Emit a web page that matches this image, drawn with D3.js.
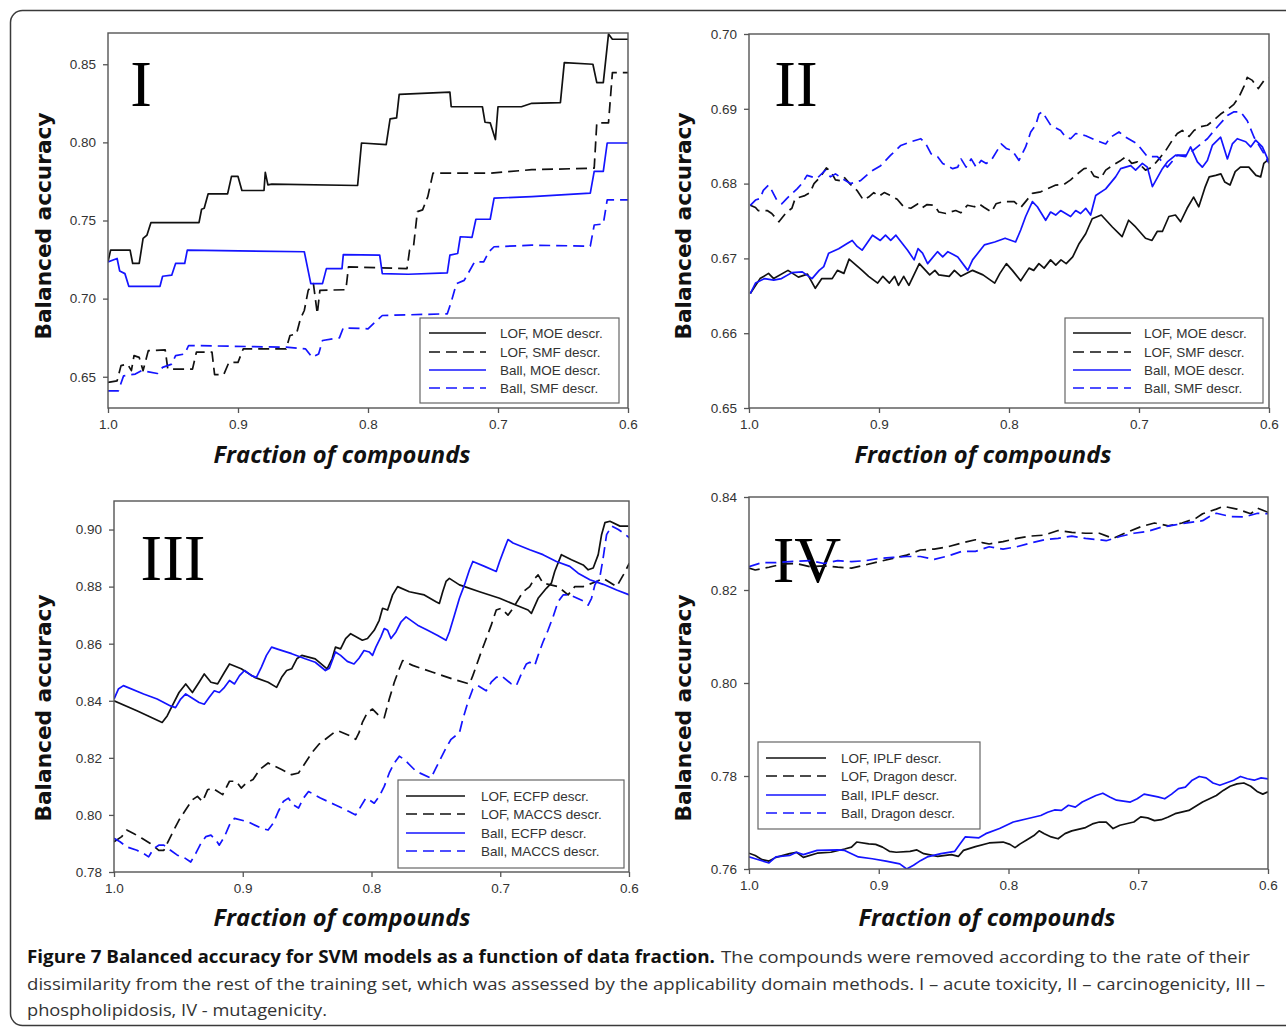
<!DOCTYPE html>
<html><head><meta charset="utf-8">
<script src="https://cdn.jsdelivr.net/npm/d3@7"></script>
<style>body{margin:0;background:#fff}</style>
</head><body>
<svg id="c" width="1286" height="1027"></svg>
<script>
// ---------- DATA ----------
const xTicks = [1.0, 0.9, 0.8, 0.7, 0.6];
const yTicksI = [0.65, 0.70, 0.75, 0.80, 0.85];
const yTicksII = [0.65, 0.66, 0.67, 0.68, 0.69, 0.70];
const yTicksIII = [0.78, 0.80, 0.82, 0.84, 0.86, 0.88, 0.90];
const yTicksIV = [0.76, 0.78, 0.80, 0.82, 0.84];

const legendI = ["LOF, MOE descr.", "LOF, SMF descr.", "Ball, MOE descr.", "Ball, SMF descr."];
const legendII = ["LOF, MOE descr.", "LOF, SMF descr.", "Ball, MOE descr.", "Ball, SMF descr."];
const legendIII = ["LOF, ECFP descr.", "LOF, MACCS descr.", "Ball, ECFP descr.", "Ball, MACCS descr."];
const legendIV = ["LOF, IPLF descr.", "LOF, Dragon descr.", "Ball, IPLF descr.", "Ball, Dragon descr."];

// Panel I (acute toxicity): [fraction, balanced accuracy]
const I_lofMoe = [[1.000,0.7235],[0.998,0.731],[0.983,0.731],[0.981,0.7225],[0.976,0.7225],[0.973,0.7385],[0.970,0.7407],[0.967,0.7486],[0.930,0.7486],[0.928,0.7572],[0.926,0.7578],[0.923,0.767],[0.908,0.767],[0.905,0.7782],[0.900,0.7782],[0.897,0.7692],[0.880,0.7692],[0.879,0.7808],[0.877,0.7728],[0.874,0.7733],[0.808,0.7724],[0.805,0.7996],[0.786,0.7986],[0.783,0.815],[0.778,0.8157],[0.776,0.8307],[0.737,0.8322],[0.736,0.8228],[0.712,0.8228],[0.710,0.8129],[0.706,0.8125],[0.702,0.8018],[0.700,0.8228],[0.682,0.8228],[0.674,0.825],[0.652,0.8254],[0.649,0.851],[0.627,0.850],[0.624,0.8382],[0.619,0.8382],[0.615,0.8693],[0.612,0.866],[0.600,0.866]];
const I_lofSmf = [[1.000,0.6464],[0.993,0.6474],[0.990,0.6571],[0.985,0.6581],[0.982,0.6539],[0.980,0.6635],[0.976,0.6624],[0.973,0.6539],[0.969,0.6667],[0.956,0.6672],[0.954,0.6549],[0.935,0.6549],[0.932,0.6657],[0.920,0.6657],[0.918,0.6513],[0.911,0.6513],[0.907,0.6592],[0.900,0.6592],[0.896,0.6678],[0.863,0.6678],[0.860,0.6764],[0.855,0.6774],[0.852,0.6871],[0.849,0.6924],[0.846,0.7053],[0.842,0.7096],[0.839,0.6903],[0.837,0.7053],[0.817,0.7057],[0.815,0.7203],[0.770,0.7192],[0.768,0.731],[0.765,0.7332],[0.762,0.7557],[0.758,0.7568],[0.754,0.7653],[0.750,0.7803],[0.706,0.7803],[0.674,0.7825],[0.626,0.7835],[0.624,0.8125],[0.615,0.8125],[0.612,0.8446],[0.600,0.8446]];
const I_ballMoe = [[1.000,0.7235],[0.993,0.7257],[0.991,0.7177],[0.987,0.716],[0.984,0.7079],[0.960,0.7079],[0.958,0.7143],[0.951,0.715],[0.948,0.7225],[0.941,0.7225],[0.939,0.731],[0.849,0.730],[0.844,0.7096],[0.835,0.7096],[0.832,0.7192],[0.820,0.7192],[0.819,0.7282],[0.791,0.7278],[0.789,0.716],[0.769,0.7156],[0.739,0.7165],[0.737,0.7278],[0.731,0.7289],[0.729,0.7396],[0.720,0.7392],[0.717,0.7508],[0.706,0.7508],[0.703,0.7643],[0.674,0.7653],[0.629,0.7675],[0.626,0.7814],[0.619,0.7814],[0.616,0.7996],[0.600,0.7996]];
const I_ballSmf = [[1.000,0.641],[0.992,0.641],[0.988,0.6506],[0.979,0.6517],[0.974,0.6539],[0.962,0.6521],[0.958,0.656],[0.951,0.6581],[0.948,0.6635],[0.941,0.6646],[0.938,0.670],[0.863,0.6689],[0.848,0.6678],[0.843,0.6624],[0.838,0.6646],[0.835,0.6732],[0.822,0.6749],[0.819,0.6813],[0.800,0.6807],[0.789,0.6892],[0.739,0.6903],[0.736,0.6978],[0.732,0.7096],[0.726,0.7117],[0.718,0.7235],[0.711,0.7235],[0.707,0.730],[0.703,0.7332],[0.674,0.7342],[0.629,0.7336],[0.626,0.7471],[0.619,0.7478],[0.616,0.7632],[0.600,0.7632]];

// Panel II (carcinogenicity)
const II_lofMoe = [[0.999,0.6653],[0.9915,0.6673],[0.985,0.668],[0.981,0.6673],[0.970,0.6684],[0.962,0.6675],[0.955,0.6679],[0.949,0.666],[0.944,0.6673],[0.936,0.6673],[0.932,0.6684],[0.927,0.668],[0.923,0.6699],[0.913,0.6684],[0.908,0.6676],[0.901,0.6667],[0.897,0.6676],[0.892,0.6667],[0.888,0.6676],[0.885,0.6664],[0.881,0.6676],[0.877,0.6664],[0.869,0.6693],[0.861,0.6678],[0.857,0.6684],[0.854,0.6678],[0.846,0.6676],[0.842,0.6684],[0.837,0.6676],[0.828,0.6684],[0.820,0.6678],[0.811,0.6667],[0.807,0.668],[0.802,0.6693],[0.7974,0.6684],[0.791,0.667],[0.7846,0.6687],[0.781,0.6684],[0.777,0.6693],[0.773,0.6687],[0.768,0.6698],[0.764,0.6691],[0.760,0.6698],[0.756,0.6693],[0.751,0.6702],[0.746,0.672],[0.741,0.6733],[0.736,0.6753],[0.729,0.6758],[0.7205,0.6742],[0.713,0.6729],[0.708,0.6751],[0.7026,0.6742],[0.695,0.6727],[0.690,0.6724],[0.686,0.6736],[0.682,0.6736],[0.677,0.6756],[0.672,0.6758],[0.668,0.6749],[0.663,0.6767],[0.658,0.6782],[0.654,0.6769],[0.649,0.6796],[0.646,0.6809],[0.641,0.6811],[0.637,0.6813],[0.634,0.6802],[0.630,0.6798],[0.626,0.6816],[0.622,0.6822],[0.6155,0.6822],[0.610,0.6811],[0.6064,0.6809],[0.604,0.6827],[0.600,0.6833]];
const II_lofSmf = [[0.999,0.6771],[0.995,0.6768],[0.993,0.6764],[0.986,0.6764],[0.9825,0.676],[0.977,0.6749],[0.971,0.6762],[0.967,0.6767],[0.9645,0.678],[0.957,0.6784],[0.953,0.6788],[0.950,0.680],[0.945,0.6809],[0.9405,0.6821],[0.937,0.6816],[0.9335,0.6805],[0.930,0.6804],[0.927,0.6809],[0.922,0.6799],[0.917,0.6791],[0.912,0.6778],[0.908,0.6782],[0.904,0.6788],[0.900,0.6783],[0.896,0.6788],[0.891,0.6784],[0.886,0.6779],[0.881,0.6769],[0.8755,0.6767],[0.870,0.6773],[0.8665,0.6768],[0.863,0.6772],[0.8575,0.6771],[0.854,0.6762],[0.8485,0.676],[0.845,0.6762],[0.841,0.6764],[0.837,0.6761],[0.832,0.6771],[0.8265,0.6769],[0.823,0.6773],[0.819,0.6768],[0.8135,0.6762],[0.810,0.6773],[0.8046,0.6776],[0.796,0.6776],[0.791,0.6768],[0.782,0.6787],[0.7756,0.6789],[0.7705,0.6793],[0.764,0.6798],[0.7577,0.6799],[0.7526,0.6805],[0.7474,0.6813],[0.7423,0.682],[0.7385,0.6821],[0.7346,0.681],[0.7295,0.6807],[0.7256,0.6818],[0.7205,0.6824],[0.714,0.6831],[0.710,0.6836],[0.7056,0.6827],[0.7013,0.6829],[0.695,0.6818],[0.690,0.6822],[0.6846,0.6833],[0.6795,0.6844],[0.6744,0.6858],[0.6705,0.6867],[0.6667,0.6871],[0.6615,0.6863],[0.6577,0.6871],[0.6526,0.6876],[0.6474,0.6878],[0.6423,0.6885],[0.6372,0.6893],[0.632,0.6899],[0.627,0.6906],[0.623,0.6916],[0.619,0.6931],[0.6167,0.6942],[0.6128,0.6938],[0.6082,0.6927],[0.6038,0.6938],[0.600,0.6941]];
const II_ballMoe = [[0.999,0.6653],[0.995,0.6667],[0.988,0.6673],[0.981,0.6671],[0.975,0.6673],[0.967,0.6681],[0.959,0.6682],[0.9515,0.6673],[0.946,0.6684],[0.9425,0.6689],[0.9387,0.6707],[0.931,0.6713],[0.9245,0.672],[0.9206,0.6724],[0.9168,0.6716],[0.913,0.6711],[0.905,0.6731],[0.899,0.6724],[0.895,0.6731],[0.891,0.6724],[0.887,0.6731],[0.878,0.6711],[0.873,0.6698],[0.870,0.6713],[0.8665,0.6707],[0.8626,0.6693],[0.855,0.6709],[0.851,0.6702],[0.847,0.6709],[0.8394,0.6702],[0.8317,0.6684],[0.828,0.6698],[0.819,0.6718],[0.811,0.6722],[0.803,0.6727],[0.7949,0.6722],[0.791,0.6738],[0.7872,0.6756],[0.782,0.6776],[0.7782,0.6769],[0.7718,0.6751],[0.768,0.6762],[0.7641,0.6758],[0.7603,0.6764],[0.7526,0.6756],[0.7487,0.6764],[0.7449,0.676],[0.741,0.6767],[0.7372,0.6758],[0.7333,0.6784],[0.7256,0.6793],[0.718,0.6809],[0.7141,0.682],[0.7064,0.6824],[0.7026,0.6818],[0.6974,0.6827],[0.6936,0.6822],[0.6897,0.6796],[0.682,0.682],[0.6782,0.6829],[0.6718,0.6838],[0.6641,0.6836],[0.6603,0.6849],[0.6551,0.6829],[0.6513,0.6822],[0.6474,0.6831],[0.6436,0.6851],[0.6372,0.6862],[0.632,0.6833],[0.6282,0.6853],[0.6244,0.686],[0.6179,0.6856],[0.6141,0.6849],[0.6103,0.6858],[0.6051,0.6849],[0.600,0.6829]];
const II_ballSmf = [[0.999,0.6771],[0.995,0.6778],[0.9915,0.678],[0.989,0.6791],[0.985,0.6798],[0.9825,0.6791],[0.9786,0.6778],[0.9747,0.6773],[0.971,0.678],[0.963,0.6793],[0.9593,0.680],[0.9554,0.6811],[0.9477,0.6807],[0.9412,0.6818],[0.9374,0.6809],[0.9335,0.6813],[0.9258,0.6804],[0.9219,0.680],[0.9142,0.6804],[0.9064,0.6816],[0.8987,0.6824],[0.891,0.6838],[0.8832,0.6851],[0.8755,0.6856],[0.8678,0.686],[0.8639,0.6853],[0.860,0.684],[0.8549,0.6836],[0.851,0.6827],[0.8433,0.682],[0.8394,0.6822],[0.8369,0.6833],[0.833,0.6822],[0.8291,0.6833],[0.8253,0.6822],[0.8214,0.6831],[0.8175,0.6827],[0.8137,0.6831],[0.806,0.6853],[0.8021,0.6847],[0.7974,0.6844],[0.7923,0.6831],[0.7872,0.6849],[0.7833,0.6869],[0.7795,0.6878],[0.7769,0.6893],[0.7744,0.6896],[0.7679,0.6878],[0.7603,0.6871],[0.7564,0.6862],[0.7526,0.686],[0.7487,0.6867],[0.741,0.6864],[0.7333,0.6858],[0.7256,0.6853],[0.7218,0.6862],[0.7154,0.6869],[0.7103,0.6862],[0.7013,0.6853],[0.6936,0.6836],[0.6859,0.6836],[0.6782,0.6822],[0.6705,0.6838],[0.6628,0.6838],[0.6551,0.6849],[0.6474,0.686],[0.6397,0.6876],[0.632,0.6891],[0.6269,0.6896],[0.6218,0.6896],[0.6167,0.6884],[0.6115,0.6862],[0.6038,0.684],[0.600,0.6827]];

// Panel III (phospholipidosis)
const III_lofEcfp = [[1.000,0.840],[0.9822,0.8365],[0.9626,0.8324],[0.9587,0.8347],[0.9548,0.8382],[0.9495,0.8429],[0.9443,0.8459],[0.9391,0.8429],[0.9339,0.8465],[0.9299,0.8494],[0.9247,0.8465],[0.9195,0.8459],[0.9142,0.850],[0.9103,0.8529],[0.9012,0.8512],[0.8907,0.8482],[0.8803,0.8465],[0.8737,0.8447],[0.8698,0.8482],[0.8659,0.8506],[0.862,0.8512],[0.858,0.8547],[0.8541,0.8559],[0.8437,0.8547],[0.8345,0.8512],[0.8306,0.8547],[0.828,0.8588],[0.824,0.8582],[0.8201,0.8618],[0.8162,0.8635],[0.8071,0.8612],[0.8031,0.8618],[0.7979,0.8647],[0.794,0.8682],[0.7914,0.8724],[0.7875,0.8718],[0.7836,0.8771],[0.7797,0.880],[0.7706,0.8782],[0.759,0.8771],[0.7499,0.8747],[0.7473,0.8741],[0.7447,0.8782],[0.7421,0.8818],[0.7395,0.8829],[0.7317,0.8806],[0.7161,0.8782],[0.7005,0.8759],[0.6875,0.8735],[0.6784,0.8718],[0.6758,0.8706],[0.6706,0.8759],[0.6642,0.8794],[0.6603,0.8812],[0.6577,0.8853],[0.6525,0.8912],[0.6447,0.8894],[0.6356,0.8876],[0.6317,0.8859],[0.6278,0.8865],[0.6239,0.8912],[0.6213,0.8982],[0.6187,0.9024],[0.6148,0.9029],[0.607,0.9012],[0.6005,0.9012]];
const III_lofMaccs = [[1.000,0.7906],[0.994,0.7924],[0.9901,0.7947],[0.9848,0.7935],[0.9783,0.7918],[0.9718,0.790],[0.9652,0.7876],[0.9613,0.7876],[0.9574,0.7912],[0.9535,0.7947],[0.9495,0.7982],[0.9443,0.8018],[0.9391,0.8053],[0.9352,0.8065],[0.9312,0.8047],[0.9273,0.8088],[0.9234,0.8094],[0.9156,0.8071],[0.9103,0.8118],[0.9051,0.8118],[0.9012,0.8094],[0.8973,0.8112],[0.892,0.8124],[0.8868,0.8159],[0.8803,0.8182],[0.8698,0.8159],[0.862,0.8141],[0.8567,0.8147],[0.8515,0.8182],[0.8463,0.8218],[0.841,0.8247],[0.8358,0.8265],[0.8293,0.8288],[0.8254,0.8294],[0.8162,0.8276],[0.8123,0.8265],[0.8097,0.8288],[0.8071,0.8324],[0.8031,0.8359],[0.7992,0.8371],[0.794,0.8347],[0.7901,0.8341],[0.7862,0.8406],[0.7823,0.8465],[0.7784,0.8512],[0.7758,0.8541],[0.7681,0.8524],[0.7525,0.850],[0.7369,0.8476],[0.7239,0.8459],[0.7213,0.8488],[0.7148,0.8571],[0.707,0.8665],[0.7031,0.8718],[0.6992,0.8724],[0.694,0.870],[0.6901,0.8724],[0.6823,0.8782],[0.6771,0.880],[0.6732,0.8829],[0.6706,0.8841],[0.6668,0.8812],[0.6551,0.880],[0.6473,0.8771],[0.6421,0.880],[0.6356,0.880],[0.6252,0.8818],[0.620,0.8829],[0.6096,0.880],[0.6044,0.8841],[0.5997,0.8882]];
const III_ballEcfp = [[1.000,0.8406],[0.9966,0.8441],[0.9927,0.8453],[0.977,0.8424],[0.9665,0.8406],[0.9561,0.8382],[0.9522,0.8376],[0.9482,0.8406],[0.9443,0.8424],[0.9339,0.8394],[0.9299,0.8388],[0.926,0.8412],[0.9221,0.8435],[0.9182,0.8429],[0.9142,0.8447],[0.9103,0.8471],[0.9064,0.8459],[0.9025,0.8488],[0.8986,0.8506],[0.8933,0.8488],[0.8894,0.8482],[0.8855,0.8518],[0.8816,0.8559],[0.8776,0.8588],[0.8724,0.858],[0.862,0.8565],[0.8515,0.8547],[0.8437,0.8535],[0.8358,0.8506],[0.8327,0.8514],[0.828,0.8571],[0.824,0.8559],[0.8188,0.8538],[0.8136,0.8529],[0.8097,0.8549],[0.8058,0.8576],[0.8018,0.8571],[0.7992,0.8559],[0.7966,0.8588],[0.7927,0.8624],[0.7901,0.8653],[0.7875,0.8647],[0.7849,0.8618],[0.781,0.8641],[0.7771,0.8676],[0.7732,0.8694],[0.7642,0.8665],[0.7564,0.8647],[0.7486,0.8629],[0.7421,0.8612],[0.7395,0.8641],[0.7356,0.870],[0.7317,0.8759],[0.7278,0.8806],[0.7239,0.8859],[0.7213,0.8888],[0.7122,0.8871],[0.7031,0.8853],[0.7005,0.8888],[0.6966,0.8935],[0.694,0.8965],[0.6901,0.8953],[0.6771,0.8929],[0.6668,0.8912],[0.6564,0.8888],[0.646,0.8871],[0.6395,0.8847],[0.6304,0.8824],[0.620,0.8808],[0.6096,0.8788],[0.5997,0.8771]];
const III_ballMaccs = [[1.000,0.7918],[0.9953,0.7906],[0.9901,0.7888],[0.9822,0.7876],[0.977,0.7865],[0.9731,0.7853],[0.9692,0.7882],[0.9652,0.7894],[0.9613,0.7894],[0.9561,0.7876],[0.9508,0.7859],[0.9443,0.7847],[0.9404,0.7835],[0.9365,0.7865],[0.9325,0.790],[0.9286,0.7924],[0.9247,0.7929],[0.9208,0.7912],[0.9182,0.7894],[0.9142,0.7924],[0.9103,0.7965],[0.9064,0.7988],[0.8959,0.7976],[0.8855,0.7953],[0.8803,0.7947],[0.8763,0.7971],[0.8724,0.8012],[0.8685,0.8047],[0.8646,0.8059],[0.8607,0.8035],[0.8567,0.8024],[0.8528,0.8059],[0.8489,0.8082],[0.8397,0.8059],[0.828,0.8035],[0.8175,0.8012],[0.8123,0.800],[0.8084,0.8029],[0.8044,0.8059],[0.8018,0.8053],[0.7979,0.8041],[0.794,0.8065],[0.7901,0.810],[0.7862,0.8147],[0.7823,0.8182],[0.7784,0.8206],[0.7745,0.8194],[0.7654,0.8153],[0.7538,0.8129],[0.7499,0.8165],[0.746,0.820],[0.7421,0.8235],[0.7382,0.8265],[0.7317,0.8288],[0.7291,0.8335],[0.7252,0.8394],[0.7213,0.8441],[0.7174,0.8453],[0.7109,0.8435],[0.707,0.8465],[0.7031,0.8482],[0.6992,0.8488],[0.6914,0.8459],[0.6875,0.8453],[0.6836,0.8494],[0.6797,0.8529],[0.6771,0.8535],[0.6732,0.8524],[0.6706,0.8559],[0.6668,0.8606],[0.6629,0.8647],[0.659,0.8694],[0.6551,0.8747],[0.6512,0.8771],[0.646,0.8771],[0.6343,0.8747],[0.6317,0.8735],[0.6291,0.8759],[0.6265,0.8806],[0.6226,0.8835],[0.6205,0.8888],[0.6174,0.8982],[0.6135,0.9012],[0.6083,0.900],[0.6044,0.8988],[0.5997,0.8971]];

// Panel IV (mutagenicity)
const IV_lofIplf = [[1.000,0.7634],[0.9952,0.7629],[0.9899,0.762],[0.9846,0.7617],[0.9793,0.7625],[0.9687,0.7633],[0.9634,0.7636],[0.9581,0.7625],[0.9475,0.7634],[0.9369,0.7636],[0.9263,0.7643],[0.921,0.7647],[0.917,0.7658],[0.9077,0.7654],[0.9024,0.7653],[0.8971,0.7647],[0.8918,0.7638],[0.8865,0.7636],[0.8759,0.7638],[0.8706,0.7641],[0.8653,0.7633],[0.8546,0.7627],[0.844,0.7631],[0.8387,0.7627],[0.8347,0.764],[0.8255,0.7648],[0.8149,0.7656],[0.8042,0.7658],[0.7989,0.7653],[0.795,0.7646],[0.791,0.7654],[0.7857,0.7663],[0.7804,0.7672],[0.7764,0.7682],[0.7724,0.7676],[0.7671,0.7669],[0.7618,0.7665],[0.7565,0.7676],[0.7512,0.7682],[0.7406,0.7689],[0.7353,0.7697],[0.730,0.7701],[0.7247,0.7701],[0.7194,0.7687],[0.7141,0.7694],[0.7034,0.7701],[0.6981,0.7712],[0.6928,0.771],[0.6875,0.7704],[0.6822,0.7706],[0.6769,0.7712],[0.6716,0.7719],[0.661,0.7726],[0.6557,0.7735],[0.6504,0.7744],[0.6451,0.7751],[0.6398,0.7758],[0.6345,0.7769],[0.6292,0.7778],[0.6239,0.7783],[0.6186,0.7785],[0.6133,0.7778],[0.608,0.7766],[0.604,0.7761],[0.600,0.7766]];
const IV_lofDragon = [[1.000,0.8247],[0.9952,0.8243],[0.9846,0.8249],[0.974,0.8256],[0.9634,0.8257],[0.9528,0.825],[0.9422,0.8252],[0.9316,0.8249],[0.921,0.8247],[0.9103,0.8254],[0.8997,0.8261],[0.8891,0.8268],[0.8785,0.8275],[0.8679,0.8286],[0.8573,0.8288],[0.8467,0.8293],[0.8361,0.8301],[0.8255,0.8308],[0.8202,0.8302],[0.8149,0.8299],[0.8042,0.8304],[0.7936,0.8311],[0.783,0.8316],[0.7724,0.8318],[0.7618,0.8328],[0.7512,0.8324],[0.7406,0.8322],[0.730,0.8322],[0.7194,0.8311],[0.7088,0.8324],[0.6981,0.8336],[0.6875,0.8344],[0.6769,0.8338],[0.6663,0.8344],[0.6557,0.8354],[0.6504,0.8364],[0.6398,0.8374],[0.6345,0.838],[0.6239,0.8374],[0.6133,0.8364],[0.608,0.8376],[0.600,0.8367]];
const IV_ballIplf = [[1.000,0.7626],[0.9952,0.7622],[0.9846,0.7613],[0.9793,0.7626],[0.9687,0.7629],[0.9634,0.7636],[0.9581,0.7631],[0.9475,0.764],[0.9316,0.7641],[0.9263,0.764],[0.921,0.7633],[0.9157,0.7626],[0.905,0.7622],[0.8944,0.7617],[0.8838,0.7611],[0.8785,0.760],[0.8732,0.7608],[0.8679,0.7618],[0.8626,0.7626],[0.852,0.7633],[0.8414,0.7638],[0.8374,0.7654],[0.8334,0.7669],[0.8228,0.7667],[0.8175,0.7676],[0.8069,0.7687],[0.7963,0.7701],[0.7857,0.7708],[0.7751,0.7715],[0.7698,0.7722],[0.7645,0.7727],[0.7592,0.7726],[0.7538,0.7737],[0.7485,0.7733],[0.7432,0.7744],[0.7379,0.7751],[0.7326,0.7758],[0.7273,0.7763],[0.722,0.7755],[0.7167,0.7748],[0.7061,0.7744],[0.7008,0.7751],[0.6955,0.7761],[0.6849,0.7755],[0.6796,0.7751],[0.6743,0.7761],[0.669,0.7773],[0.6637,0.7776],[0.6584,0.7791],[0.653,0.7799],[0.6477,0.7796],[0.6424,0.7785],[0.6371,0.778],[0.6265,0.7791],[0.6212,0.7799],[0.6159,0.7794],[0.6106,0.7791],[0.6053,0.7796],[0.600,0.7794]];
const IV_ballDragon = [[1.000,0.825],[0.9899,0.8259],[0.9793,0.8259],[0.9687,0.8261],[0.9528,0.8263],[0.9422,0.8257],[0.9316,0.8263],[0.921,0.8261],[0.9103,0.8263],[0.8997,0.8268],[0.8891,0.827],[0.8785,0.8272],[0.8679,0.8272],[0.8573,0.8266],[0.8467,0.8273],[0.8361,0.8283],[0.8255,0.8283],[0.8149,0.8293],[0.8042,0.8288],[0.7936,0.8293],[0.783,0.8301],[0.7724,0.8308],[0.7618,0.8311],[0.7512,0.8316],[0.7406,0.8311],[0.730,0.8308],[0.7247,0.8306],[0.7141,0.8315],[0.7034,0.8322],[0.6928,0.8326],[0.6822,0.8335],[0.6716,0.834],[0.661,0.8345],[0.6504,0.8349],[0.6451,0.8358],[0.6398,0.8365],[0.6292,0.8358],[0.6186,0.8357],[0.608,0.8365],[0.600,0.8364]];

// ---------- DRAWING ----------
const BLACK = "#111", BLUE = "#1414ff";
const svg = d3.select("#c");

svg.append("rect").attr("x", 10.5).attr("y", 10.5).attr("width", 1300).attr("height", 1015)
  .attr("rx", 12).attr("fill", "none").attr("stroke", "#3a3a3a").attr("stroke-width", 1.5);

const panels = [
  {L:108, R:628, T:33, B:408, yd:[0.63,0.87], yt:yTicksI, series:[I_lofMoe, I_lofSmf, I_ballMoe, I_ballSmf], leg:legendI,
   box:[420,318,199,85], lx:[429,486], tx:500, rows:[333,352,370,388], num:"I", nx:141, ny:106, ytx:43, yty:226, xtx:342, xty:463},
  {L:749, R:1269, T:34, B:408, yd:[0.65,0.70], yt:yTicksII, series:[II_lofMoe, II_lofSmf, II_ballMoe, II_ballSmf], leg:legendII,
   box:[1065,318,198,85], lx:[1073,1131], tx:1144, rows:[333,352,370,388], num:"II", nx:796, ny:106, ytx:683, yty:226, xtx:983, xty:463},
  {L:114, R:629, T:501, B:872, yd:[0.78,0.91], yt:yTicksIII, series:[III_lofEcfp, III_lofMaccs, III_ballEcfp, III_ballMaccs], leg:legendIII,
   box:[398,780,226,88], lx:[406,465], tx:481, rows:[796,814,833,851], num:"III", nx:173, ny:580, ytx:43, yty:708, xtx:342, xty:926},
  {L:749, R:1268, T:497, B:869, yd:[0.76,0.84], yt:yTicksIV, series:[IV_lofIplf, IV_lofDragon, IV_ballIplf, IV_ballDragon], leg:legendIV,
   box:[758,742,222,87], lx:[766,826], tx:841, rows:[758,776,795,813], num:"IV", nx:807, ny:582, ytx:683, yty:708, xtx:987, xty:926}
];
const styles = [{c:BLACK, d:null},{c:BLACK, d:"11,6"},{c:BLUE, d:null},{c:BLUE, d:"11,6"}];

panels.forEach((p, pi) => {
  const g = svg.append("g");
  const x = d3.scaleLinear().domain([1.0, 0.6]).range([p.L, p.R]);
  const y = d3.scaleLinear().domain(p.yd).range([p.B, p.T]);

  const clipId = "clip" + pi;
  g.append("clipPath").attr("id", clipId).append("rect")
    .attr("x", p.L).attr("y", p.T).attr("width", p.R - p.L).attr("height", p.B - p.T);

  g.append("text").attr("x", p.nx).attr("y", p.ny).attr("text-anchor", "middle")
    .attr("font-family", "'Liberation Serif', 'Times New Roman', serif").attr("font-size", 65)
    .attr("fill", "#000").text(p.num);

  const line = d3.line().x(d => x(d[0])).y(d => y(d[1]));
  const lg = g.append("g").attr("clip-path", `url(#${clipId})`);
  p.series.forEach((s, i) => {
    lg.append("path").datum(s).attr("d", line).attr("fill", "none")
      .attr("stroke", styles[i].c).attr("stroke-width", 1.7)
      .attr("stroke-linejoin", "round")
      .attr("stroke-dasharray", styles[i].d);
  });

  g.append("rect").attr("x", p.L).attr("y", p.T).attr("width", p.R - p.L).attr("height", p.B - p.T)
    .attr("fill", "none").attr("stroke", "#555").attr("stroke-width", 1.4);

  const ya = g.append("g").attr("transform", `translate(${p.L},0)`)
    .call(d3.axisLeft(y).tickValues(p.yt).tickSize(5).tickPadding(7).tickFormat(d3.format(".2f")));
  const xa = g.append("g").attr("transform", `translate(0,${p.B})`)
    .call(d3.axisBottom(x).tickValues(xTicks).tickSize(5).tickPadding(6).tickFormat(d3.format(".1f")));
  [ya, xa].forEach(a => {
    a.select(".domain").remove();
    a.selectAll(".tick line").attr("stroke", "#555").attr("stroke-width", 1.3);
    a.selectAll(".tick text").attr("font-family", "'Liberation Sans', Arial, sans-serif")
      .attr("font-size", 13.5).attr("fill", "#333");
  });

  g.append("text").attr("transform", `translate(${p.ytx},${p.yty}) rotate(-90)`)
    .attr("text-anchor", "middle").attr("dominant-baseline", "central")
    .attr("font-family", "'DejaVu Sans', Verdana, sans-serif").attr("font-weight", "bold")
    .attr("font-size", 22).attr("fill", "#111")
    .attr("textLength", 227).attr("lengthAdjust", "spacingAndGlyphs").text("Balanced accuracy");
  g.append("text").attr("x", p.xtx).attr("y", p.xty).attr("text-anchor", "middle")
    .attr("font-family", "'Open Sans', sans-serif").attr("font-weight", "bold").attr("font-style", "italic")
    .attr("font-size", 23).attr("fill", "#111")
    .attr("textLength", 257).attr("lengthAdjust", "spacingAndGlyphs").text("Fraction of compounds");

  g.append("rect").attr("x", p.box[0]).attr("y", p.box[1]).attr("width", p.box[2]).attr("height", p.box[3])
    .attr("fill", "#fff").attr("stroke", "#666").attr("stroke-width", 1.2);
  p.leg.forEach((lab, i) => {
    g.append("line").attr("x1", p.lx[0]).attr("x2", p.lx[1]).attr("y1", p.rows[i]).attr("y2", p.rows[i])
      .attr("stroke", styles[i].c).attr("stroke-width", 1.7).attr("stroke-dasharray", styles[i].d);
    g.append("text").attr("x", p.tx).attr("y", p.rows[i]).attr("dy", "0.36em")
      .attr("font-family", "'Liberation Sans', Arial, sans-serif").attr("font-size", 13.5)
      .attr("fill", "#333").text(lab);
  });
});

const cap = svg.append("g").attr("font-family", "'Open Sans', sans-serif").attr("font-size", 17);
cap.append("text").attr("x", 27).attr("y", 963).attr("font-weight", "bold").attr("fill", "#111")
  .attr("textLength", 688).attr("lengthAdjust", "spacingAndGlyphs")
  .text("Figure 7 Balanced accuracy for SVM models as a function of data fraction.");
cap.append("text").attr("x", 721).attr("y", 963).attr("fill", "#333")
  .attr("textLength", 529).attr("lengthAdjust", "spacingAndGlyphs")
  .text("The compounds were removed according to the rate of their");
cap.append("text").attr("x", 27).attr("y", 990).attr("fill", "#333")
  .attr("textLength", 1238).attr("lengthAdjust", "spacingAndGlyphs")
  .text("dissimilarity from the rest of the training set, which was assessed by the applicability domain methods. I \u2013 acute toxicity, II \u2013 carcinogenicity, III \u2013");
cap.append("text").attr("x", 27).attr("y", 1016).attr("fill", "#333")
  .attr("textLength", 300).attr("lengthAdjust", "spacingAndGlyphs")
  .text("phospholipidosis, IV - mutagenicity.");
</script>
</body></html>
